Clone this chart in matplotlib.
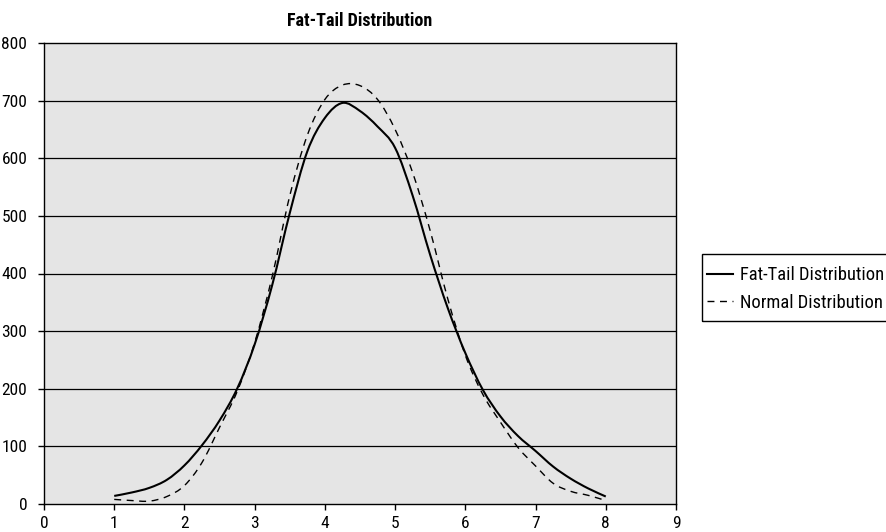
import matplotlib
matplotlib.use("Agg")
import matplotlib.pyplot as plt
import matplotlib.font_manager as fm
from matplotlib.patches import Rectangle, PathPatch
from matplotlib.path import Path

# values (0.25 step)
x_vals = [1.0, 1.25, 1.5, 1.75, 2.0, 2.25, 2.5, 2.75, 3.0, 3.25, 3.5, 3.75, 4.0,
          4.25, 4.5, 4.75, 5.0, 5.25, 5.5, 5.75, 6.0, 6.25, 6.5, 6.75, 7.0,
          7.25, 7.5, 7.75, 8.0]
fat_tail = [14, 20, 28, 42, 67, 102, 145, 200, 277, 380, 505, 612, 670,
            696, 682, 655, 618, 535, 432, 340, 262, 198, 152, 118, 92,
            65, 44, 27, 13]
normal = [8, 6, 5, 13, 32, 72, 133, 195, 280, 395, 535, 640, 702,
          727, 726, 702, 650, 575, 474, 356, 258, 190, 142, 98, 66,
          36, 22, 15, 6]

x_ticks = list(range(0, 10))
y_ticks = list(range(0, 900, 100))


def pick_narrow_font():
    # the reference uses a condensed sans; take one if the machine has it
    fonts = fm.fontManager.ttflist
    names = {f.name for f in fonts}
    for name in ["Liberation Sans Narrow", "Roboto Condensed", "Open Sans Condensed",
                 "DejaVu Sans Condensed", "Noto Sans Condensed"]:
        if name in names:
            return name, "normal"
    for f in fonts:
        if f.name in ("DejaVu Sans", "Roboto", "Noto Sans", "Open Sans") and \
                str(f.stretch) in ("condensed", "semi-condensed", "extra-condensed"):
            return f.name, f.stretch
    return "Liberation Sans", "normal"


def smooth_path(xs, ys):
    # Excel-style smoothed line: Catmull-Rom segments as cubic Beziers
    pts = list(zip(xs, ys))
    verts = [pts[0]]
    codes = [Path.MOVETO]
    n = len(pts)
    for i in range(n - 1):
        p0 = pts[max(i - 1, 0)]
        p1 = pts[i]
        p2 = pts[i + 1]
        p3 = pts[min(i + 2, n - 1)]
        c1 = (p1[0] + (p2[0] - p0[0]) / 6, p1[1] + (p2[1] - p0[1]) / 6)
        c2 = (p2[0] - (p3[0] - p1[0]) / 6, p2[1] - (p3[1] - p1[1]) / 6)
        verts += [c1, c2, p2]
        codes += [Path.CURVE4] * 3
    return Path(verts, codes)


family, stretch = pick_narrow_font()
plt.rcParams['font.family'] = [family, 'DejaVu Sans']
plt.rcParams['font.stretch'] = stretch

fig = plt.figure(figsize=(8.86, 5.32), dpi=100)
ax = fig.add_axes([44 / 886, 1 - 504 / 532, (676 - 44) / 886, (504 - 43) / 532])
ax.set_facecolor("#e5e5e5")

for y in y_ticks[1:-1]:
    ax.axhline(y, color="black", linewidth=0.9, zorder=1)

solid_style = dict(color="black", linewidth=1.5)
dash_style = dict(color="black", linewidth=1.0, linestyle=(0, (5, 4)))

ax.add_patch(PathPatch(smooth_path(x_vals, fat_tail), fill=False, zorder=3, **solid_style))
ax.add_patch(PathPatch(smooth_path(x_vals, normal), fill=False, zorder=3, **dash_style))
# empty lines only for the legend entries
ax.plot([], [], label="Fat-Tail Distribution", **solid_style)
ax.plot([], [], label="Normal Distribution", **dash_style)

ax.set_xlim(0, 9)
ax.set_ylim(0, 800)
ax.set_xticks(x_ticks)
ax.set_yticks(y_ticks)
ax.tick_params(axis="both", direction="out", length=4, width=1, labelsize=12.5, colors="black")
ax.tick_params(axis="x", pad=5)
ax.tick_params(axis="y", pad=8)
for s in ax.spines.values():
    s.set_color("black")
    s.set_linewidth(1.0)

ax.set_title("Fat-Tail Distribution", fontsize=13, fontweight="bold", pad=12)

# legend box drawn by hand so it runs off the right edge like the reference
fig.patches.append(Rectangle((701.5 / 886, 1 - 321 / 532), 0.4, (321 - 254) / 532,
                             transform=fig.transFigure, fill=False,
                             edgecolor="black", linewidth=1.0))
fig.legend(loc="center left", bbox_to_anchor=(703 / 886, 1 - 289 / 532),
           fontsize=13.3, frameon=False, handlelength=1.4, handletextpad=0.4,
           labelspacing=0.5, borderpad=0.2, borderaxespad=0)

fig.savefig("out.png", dpi=100)
